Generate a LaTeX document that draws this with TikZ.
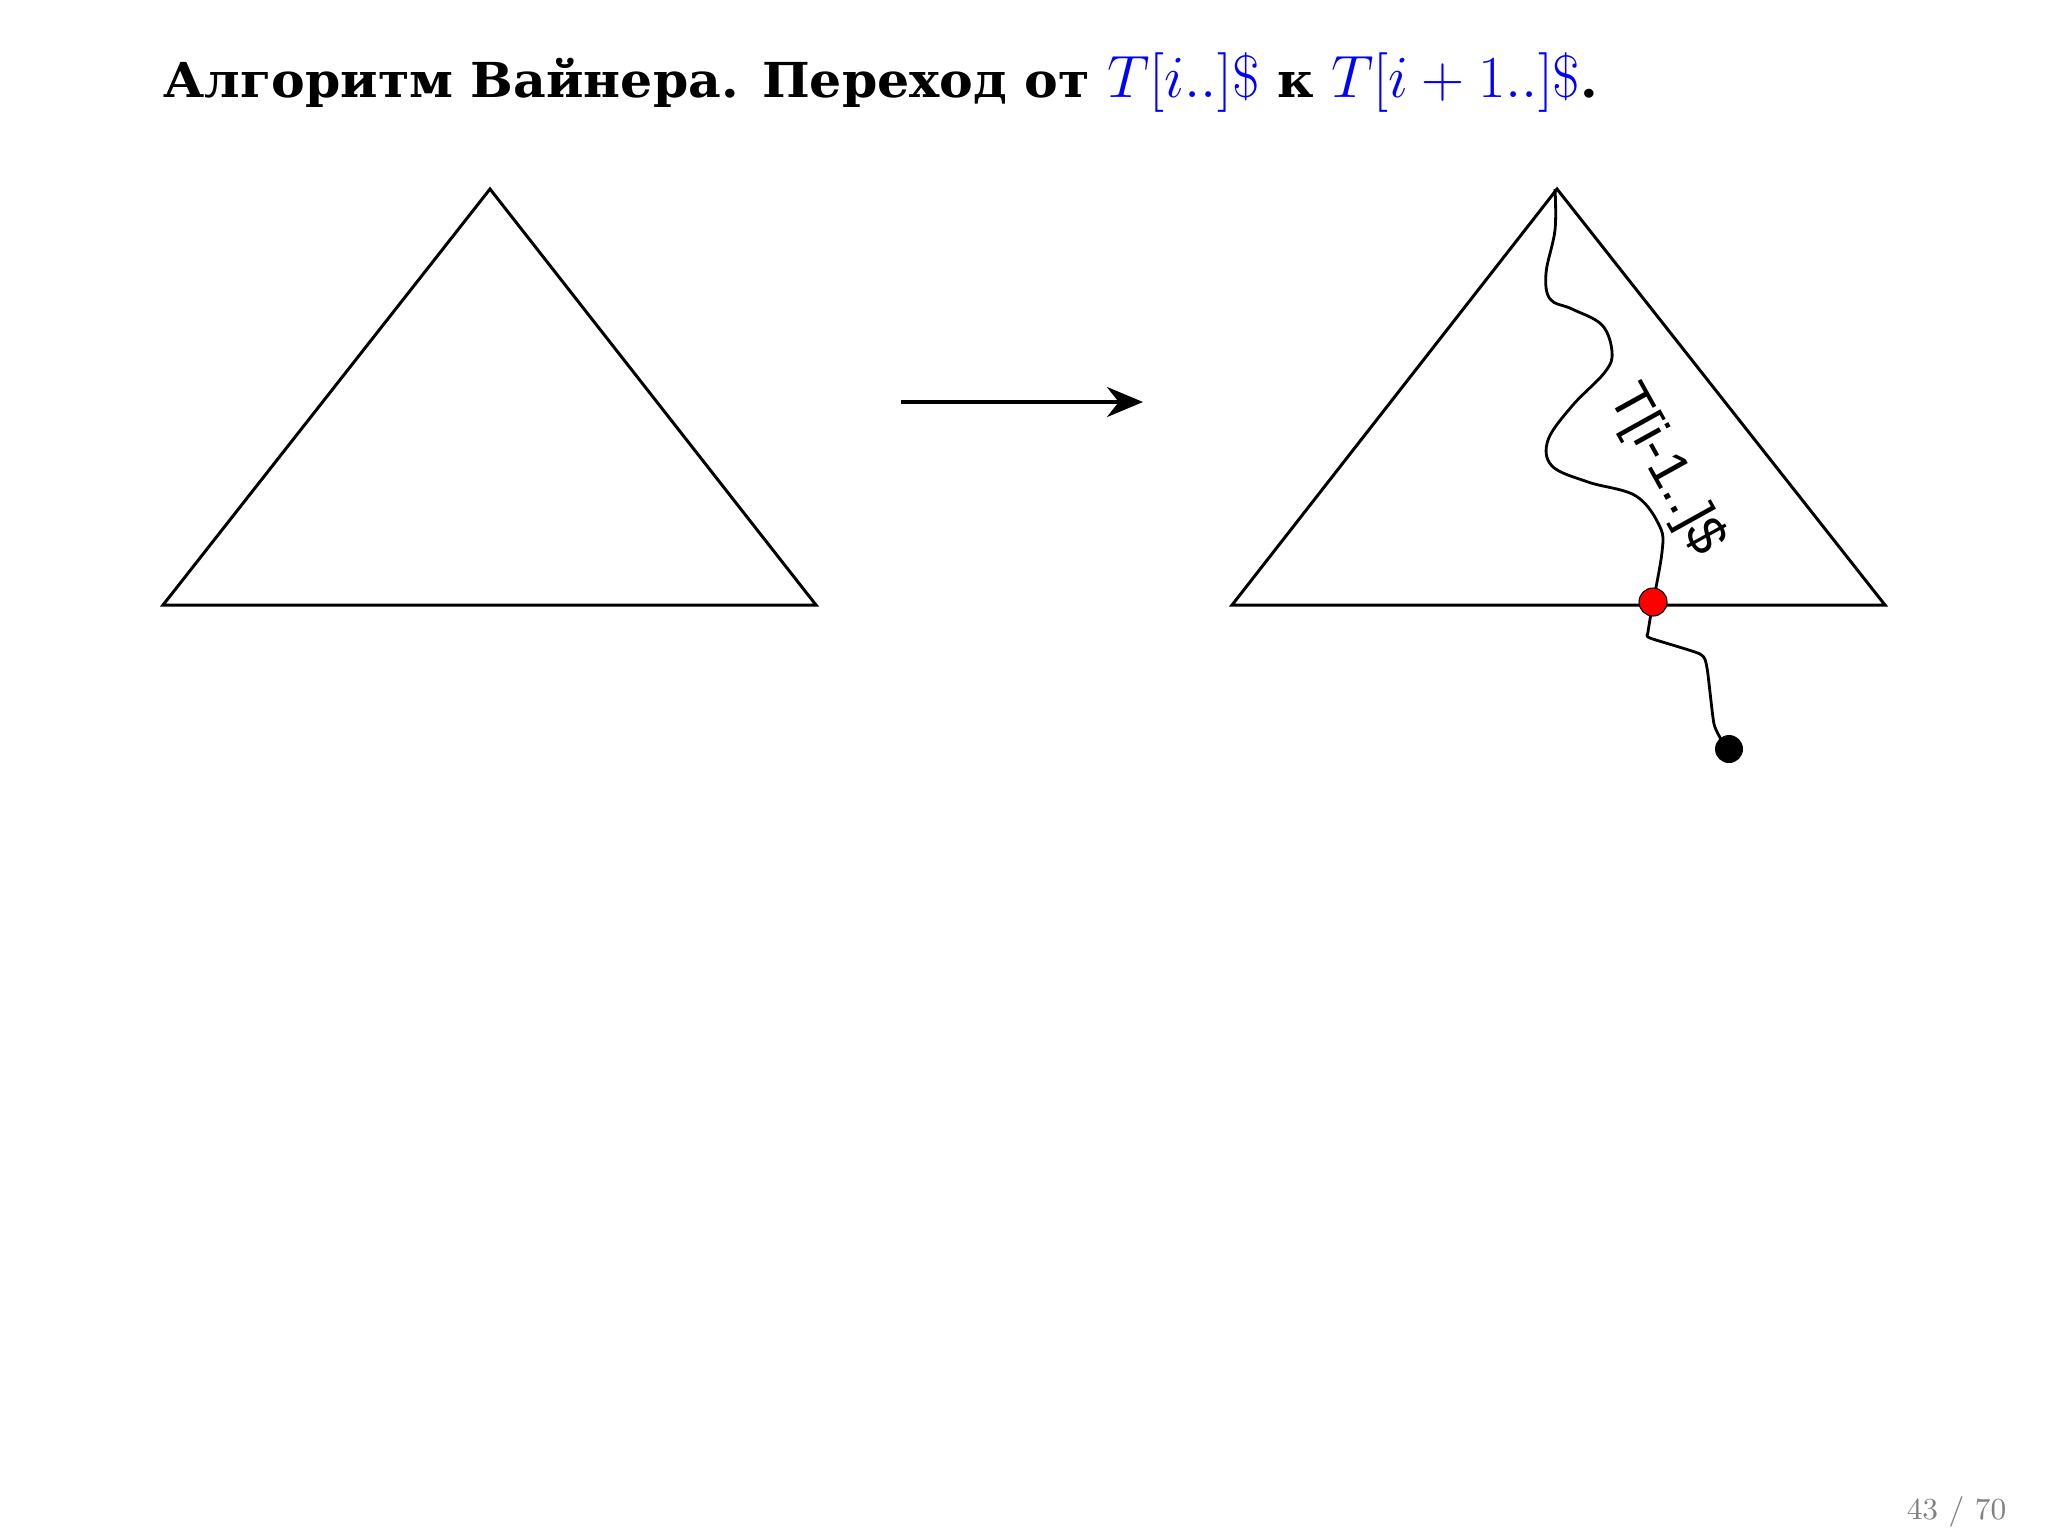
\documentclass[tikz,border=0pt]{standalone}
\usepackage{fix-cm}
\usepackage{fontspec}
\newfontfamily\titlefont[FakeStretch=1.05]{DejaVu Serif}
\newfontfamily\labelfont{Liberation Sans}
\usetikzlibrary{arrows.meta}
\definecolor{pagegray}{RGB}{128,128,128}
\tikzset{
  tri/.style={draw=black, line width=0.85pt, line join=miter},
  wave/.style={draw=black, line width=0.8pt},
  reddot/.style={circle, draw=black, line width=0.3pt, fill=red, minimum size=2.8mm, inner sep=0pt},
  blackdot/.style={circle, fill=black, minimum size=2.8mm, inner sep=0pt},
  bigarrow/.style={draw=black, line width=1.1pt, -{Stealth[length=3.6mm, width=3.0mm]}}
}
\begin{document}
\begin{tikzpicture}[x=0.1mm, y=-0.1mm]
\useasboundingbox (0,0) rectangle (2048,1536);
% title
\node[anchor=base west, inner sep=0pt, font=\titlefont\bfseries\fontsize{13.7}{16}\selectfont] (title) at (163,97)
  {Алгоритм Вайнера. Переход от {\fontsize{17}{19}\selectfont\textcolor{blue}{$T[i..]\$$}} к {\fontsize{17}{19}\selectfont\textcolor{blue}{$T[i+1..]\$$}}.};
% left triangle
\coordinate (LA) at (490,189);
\coordinate (LB) at (163,605);
\coordinate (LC) at (816,605);
\draw[tri] (LA) -- (LB) -- (LC) -- cycle;
% arrow
\coordinate (arS) at (901,402);
\coordinate (arE) at (1143,402);
\draw[bigarrow] (arS) -- (arE);
% right triangle
\coordinate (RA) at (1557,189);
\coordinate (RB) at (1232,605);
\coordinate (RC) at (1885,605);
\draw[tri] (RA) -- (RB) -- (RC) -- cycle;
% dots
\coordinate (redpos) at (1653,602);
\coordinate (blackpos) at (1729,749);
% wavy path
\draw[wave] plot[smooth, tension=0.6] coordinates {
  (1555,189) (1555,230) (1546,273) (1550,299) (1572,309) (1602,325)
  (1612,352) (1605,372) (1572,406) (1548,440) (1552,466) (1588,482)
  (1636,496) (1660,527) (1662,552) (1653,602)};
\draw[wave] plot[smooth, tension=0.35] coordinates {
  (1653,602) (1648,632) (1650,638) (1700,654) (1707,668) (1714,724) (1724,744) (1729,749)};
\node[reddot] (red) at (redpos) {};
\node[blackdot] (blk) at (blackpos) {};
% label
\node[inner sep=0pt, rotate=-61, font=\labelfont\fontsize{15.5}{18}\selectfont] (lbl) at (1666,470) {T[i-1..]\$};
% page number
\node[anchor=base east, inner sep=0pt, text=pagegray, font=\fontsize{8.7}{10}\selectfont] (page) at (2007,1519) {43 / 70};
\end{tikzpicture}
\end{document}
